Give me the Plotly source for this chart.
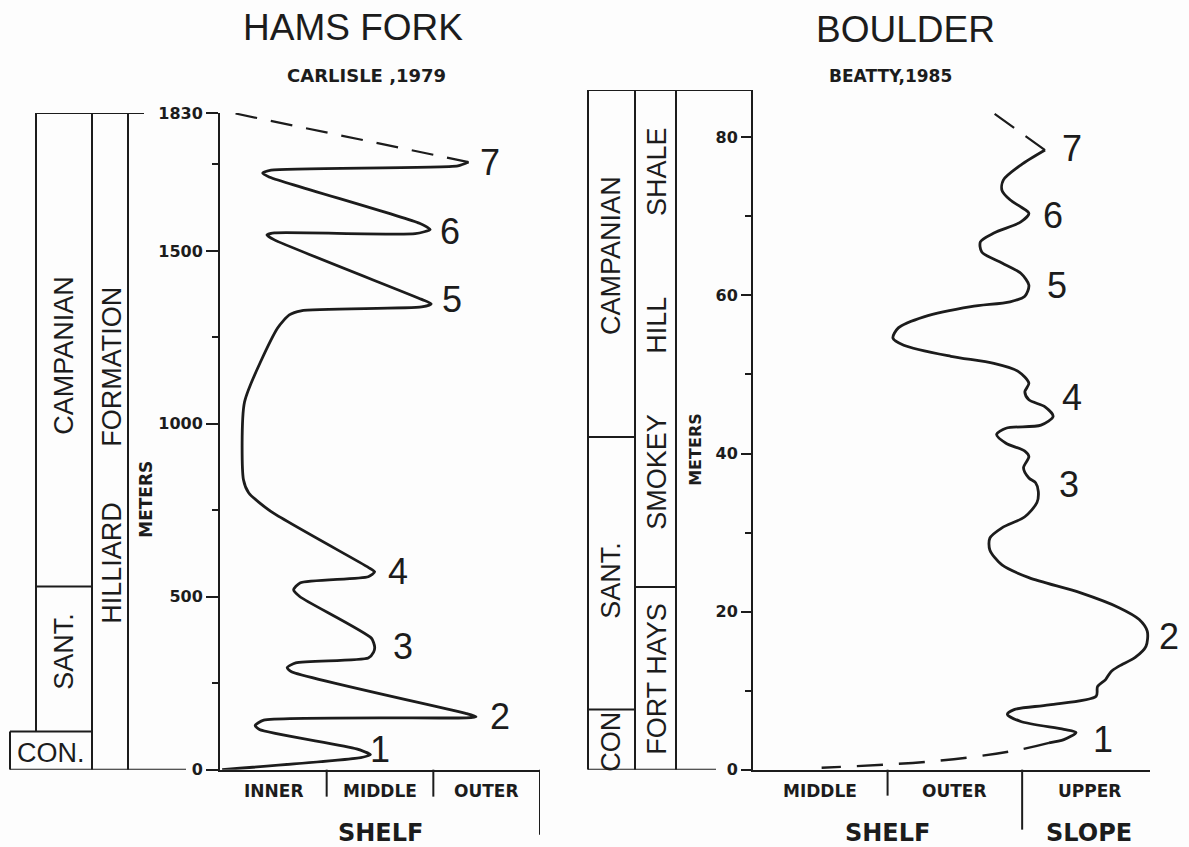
import plotly.graph_objects as go

W, H = 1189, 847

# ---------------- DATA ----------------
# Hams Fork (Carlisle, 1979): depth in metres vs environment (0..3 = inner/middle/outer shelf)
HF_DEPTH = [0, 35, 43, 60, 116, 128, 143, 150, 153, 162, 283, 295, 309, 323, 340, 355, 380,
            500, 520, 540, 558, 572, 585, 746, 800, 838, 1063, 1277, 1315, 1327, 1338, 1347,
            1360, 1532, 1546, 1552, 1550, 1562, 1580, 1714, 1725, 1734, 1746, 1757]
HF_ENV = [0.02, 1.32, 1.41, 1.28, 0.37, 0.33, 0.41, 2.31, 2.40, 2.31, 0.67, 0.63, 0.71, 1.39,
          1.44, 1.45, 1.42, 0.75, 0.69, 0.75, 1.39, 1.45, 1.39, 0.48, 0.27, 0.22, 0.23, 0.54,
          0.65, 0.76, 1.89, 1.98, 1.89, 0.51, 0.44, 0.51, 1.83, 1.97, 1.87, 0.46, 0.40, 0.48,
          2.23, 2.33]
HF_DASH_DEPTH = [1757, 1899]
HF_DASH_ENV = [2.33, 0.12]
HF_PEAKS = ["1", "2", "3", "4", "5", "6", "7"]
HF_PEAK_DEPTH = [43, 153, 355, 572, 1347, 1562, 1757]
HF_PEAK_ENV = [1.41, 2.40, 1.45, 1.45, 1.98, 1.97, 2.33]
HF_TICKVALS = [0, 500, 1000, 1500, 1899]
HF_TICKTEXT = ["0", "500", "1000", "1500", "1830"]
HF_MINOR = [250, 750, 1250, 1750]
HF_TOP = 1899
HF_FACIES = ["INNER", "MIDDLE", "OUTER"]
HF_STAGE_BOUNDS = {"CON.": (0, 110), "SANT.": (110, 530), "CAMPANIAN": (530, 1899)}

# Boulder (Beatty, 1985): depth in metres vs environment (0..3 = middle shelf/outer shelf/upper slope)
BO_DEPTH = [78.4, 76.5, 74.6, 73.3, 72.1, 71.2, 70.4, 69.3, 67.9, 66.8, 65.5, 64.1, 62.8, 61.3,
            59.9, 59.2, 58.6, 57.3, 55.9, 54.6, 53.7, 52.3, 51.4, 50.4, 48.9, 47.8, 46.8, 45.9,
            44.7, 43.6, 43.2, 42.4, 41.3, 40.3, 39.6, 38.2, 36.9, 36.3, 35.2, 33.8, 32.0, 30.6,
            29.3, 27.8, 25.9, 24.3, 22.4, 20.5, 19.0, 17.5, 15.6, 14.2, 13.1, 12.4, 11.4, 10.5,
            9.3, 8.2, 7.6, 7.0, 6.1, 5.1, 4.7, 3.8, 3.4]
BO_ENV = [2.17, 1.99, 1.86, 1.85, 1.91, 1.99, 2.05, 1.99, 1.79, 1.69, 1.70, 1.85, 1.99, 2.05,
          2.02, 1.91, 1.62, 1.27, 1.08, 1.04, 1.12, 1.47, 1.79, 1.97, 2.05, 2.02, 2.05, 2.17,
          2.23, 2.14, 1.88, 1.81, 1.88, 2.02, 2.05, 2.01, 2.05, 2.10, 2.12, 2.11, 2.02, 1.85,
          1.76, 1.76, 1.85, 2.05, 2.43, 2.72, 2.87, 2.93, 2.92, 2.84, 2.72, 2.66, 2.62, 2.56,
          2.55, 2.20, 1.94, 1.89, 1.99, 2.31, 2.40, 2.31, 2.20]
BO_DASH_TOP_DEPTH = [78.4, 83.4]
BO_DASH_TOP_ENV = [2.17, 1.76]
BO_DASH_BOT_DEPTH = [3.4, 2.3, 1.05, 0.25]
BO_DASH_BOT_ENV = [2.20, 1.91, 1.33, 0.51]
BO_PEAKS = ["1", "2", "3", "4", "5", "6", "7"]
BO_PEAK_DEPTH = [4.7, 17.5, 35.2, 44.7, 61.3, 70.4, 78.4]
BO_PEAK_ENV = [2.40, 2.93, 2.12, 2.23, 2.05, 2.05, 2.17]
BO_TICKVALS = [0, 20, 40, 60, 80]
BO_MINOR = [10, 30, 50, 70]
BO_TOP = 86
BO_FACIES = ["MIDDLE", "OUTER", "UPPER"]
BO_STAGE_BOUNDS = {"CON": (0, 7.6), "SANT.": (7.6, 42.1), "CAMPANIAN": (42.1, 86)}
BO_FM_BOUNDS = {"FORT HAYS": (0, 23.1), "SMOKEY HILL SHALE": (23.1, 86)}

# ---------------- STYLE / LAYOUT HELPERS ----------------
INK = "#1c1c1c"
BG = "#fdfdfd"
SANS = "Liberation Sans"
BOLD = "DejaVu Sans"


def px(x):
    return x / W


def py(y):
    # target pixel row -> paper fraction (small correction for the rendered page height)
    yy = (y - 9) / 0.978
    return 1 - yy / H


fig = go.Figure()

# curves
fig.add_trace(go.Scatter(x=HF_ENV, y=HF_DEPTH, mode="lines", xaxis="x", yaxis="y",
                         line=dict(color=INK, width=2.8, shape="spline", smoothing=0.6),
                         showlegend=False, hoverinfo="skip"))
fig.add_trace(go.Scatter(x=HF_DASH_ENV, y=HF_DASH_DEPTH, mode="lines", xaxis="x", yaxis="y",
                         line=dict(color=INK, width=2.2, dash="22px,14px"),
                         showlegend=False, hoverinfo="skip"))
fig.add_trace(go.Scatter(x=BO_ENV, y=BO_DEPTH, mode="lines", xaxis="x2", yaxis="y2",
                         line=dict(color=INK, width=2.8, shape="spline", smoothing=0.8),
                         showlegend=False, hoverinfo="skip"))
fig.add_trace(go.Scatter(x=BO_DASH_TOP_ENV, y=BO_DASH_TOP_DEPTH, mode="lines", xaxis="x2", yaxis="y2",
                         line=dict(color=INK, width=2.2, dash="24px,14px"),
                         showlegend=False, hoverinfo="skip"))
fig.add_trace(go.Scatter(x=BO_DASH_BOT_ENV, y=BO_DASH_BOT_DEPTH, mode="lines", xaxis="x2", yaxis="y2",
                         line=dict(color=INK, width=2.4, dash="26px,16px", shape="spline"),
                         showlegend=False, hoverinfo="skip"))

tickfont = dict(family=BOLD, size=16, color=INK, weight="bold")

fig.update_layout(
    width=W, height=H, margin=dict(l=0, r=0, t=0, b=0),
    paper_bgcolor=BG, plot_bgcolor=BG, showlegend=False,
    xaxis=dict(domain=[px(220), px(540)], range=[0, 3], anchor="y", showgrid=False,
               zeroline=False, showline=True, linecolor=INK, linewidth=2,
               ticks="", showticklabels=False),
    yaxis=dict(domain=[py(770), py(113)], range=[0, HF_TOP], anchor="x", showgrid=False,
               zeroline=False, showline=True, linecolor=INK, linewidth=2,
               tickmode="array", tickvals=HF_TICKVALS, ticktext=HF_TICKTEXT,
               ticks="outside", ticklen=12, tickwidth=2, tickcolor=INK, tickfont=tickfont,
               minor=dict(tickmode="array", tickvals=HF_MINOR, ticks="outside", ticklen=6,
                          tickwidth=2, tickcolor=INK, showgrid=False)),
    xaxis2=dict(domain=[px(753), px(1150)], range=[0, 2.95], anchor="y2", showgrid=False,
                zeroline=False, showline=True, linecolor=INK, linewidth=2,
                ticks="", showticklabels=False),
    yaxis2=dict(domain=[py(770), py(90)], range=[0, BO_TOP], anchor="x2", showgrid=False,
                zeroline=False, showline=True, linecolor=INK, linewidth=2,
                tickmode="array", tickvals=BO_TICKVALS,
                ticks="outside", ticklen=10, tickwidth=2, tickcolor=INK, tickfont=tickfont,
                minor=dict(tickmode="array", tickvals=BO_MINOR, ticks="outside", ticklen=6,
                           tickwidth=2, tickcolor=INK, showgrid=False)),
)

shapes = []


def hline(x0, x1, y, yref, w=2):
    shapes.append(dict(type="line", xref="paper", yref=yref, x0=px(x0), x1=px(x1), y0=y, y1=y,
                       line=dict(color=INK, width=w)))


def vline(x, y0, y1, yref, w=2):
    shapes.append(dict(type="line", xref="paper", yref=yref, x0=px(x), x1=px(x), y0=y0, y1=y1,
                       line=dict(color=INK, width=w)))


# ---- left stratigraphic columns ----
con_lo, con_hi = HF_STAGE_BOUNDS["CON."]
sant_lo, sant_hi = HF_STAGE_BOUNDS["SANT."]
vline(10, con_lo, con_hi, "y")
hline(10, 92, con_hi, "y")
vline(36, con_hi, HF_TOP, "y")
hline(36, 92, sant_hi, "y")
vline(92, 0, HF_TOP, "y")
vline(128, 0, HF_TOP, "y")
hline(36, 144, HF_TOP, "y")
hline(10, 186, 0, "y")

# ---- right stratigraphic columns ----
vline(588, 0, BO_TOP, "y2")
vline(635, 0, BO_TOP, "y2")
vline(676, 0, BO_TOP, "y2")
hline(588, 753, BO_TOP, "y2")
hline(588, 716, 0, "y2")
hline(588, 635, BO_STAGE_BOUNDS["CAMPANIAN"][0], "y2")
hline(588, 635, BO_STAGE_BOUNDS["CON"][1], "y2")
hline(635, 676, BO_FM_BOUNDS["FORT HAYS"][1], "y2")

# ---- facies dividers ----
for xv in (1, 2):
    shapes.append(dict(type="line", xref="x", yref="paper", x0=xv, x1=xv, y0=py(770), y1=py(797),
                       line=dict(color=INK, width=2)))
shapes.append(dict(type="line", xref="x", yref="paper", x0=3, x1=3, y0=py(770), y1=py(835),
                   line=dict(color=INK, width=2)))
shapes.append(dict(type="line", xref="x2", yref="paper", x0=1, x1=1, y0=py(770), y1=py(796),
                   line=dict(color=INK, width=2)))
shapes.append(dict(type="line", xref="x2", yref="paper", x0=2, x1=2, y0=py(770), y1=py(830),
                   line=dict(color=INK, width=2)))
fig.update_layout(shapes=shapes)

ann = []


def text(t, x, y, size, family=SANS, bold=False, angle=0):
    f = dict(family=family, size=size, color=INK)
    if bold:
        f["weight"] = "bold"
    ann.append(dict(text=t, x=px(x), y=py(y), xref="paper", yref="paper", showarrow=False,
                    xanchor="center", yanchor="middle", textangle=angle, font=f))


# titles
text("HAMS FORK", 353, 28, 37)
text("CARLISLE ,1979", 366, 76, 18, BOLD, True)
text("BOULDER", 905, 30, 37)
text("BEATTY,1985", 890, 76, 17, BOLD, True)

# left column labels
text("CAMPANIAN", 64, 356, 27, angle=-90)
text("SANT.", 64, 652, 27, angle=-90)
text("CON.", 51, 753, 27)
text("FORMATION", 112, 367, 27, angle=-90)
text("HILLIARD", 112, 563, 27, angle=-90)
text("METERS", 146, 500, 17, BOLD, True, angle=-90)

# right column labels
text("CAMPANIAN", 611, 256, 27, angle=-90)
text("SANT.", 611, 581, 27, angle=-90)
text("CON", 611, 742, 27, angle=-90)
text("SHALE", 657, 172, 27, angle=-90)
text("HILL", 657, 326, 27, angle=-90)
text("SMOKEY", 657, 472, 27, angle=-90)
text("FORT HAYS", 657, 679, 27, angle=-90)
text("METERS", 696, 450, 16, BOLD, True, angle=-90)

# facies labels
for i, lab in enumerate(HF_FACIES):
    ann.append(dict(text=lab, x=i + 0.5, y=py(791), xref="x", yref="paper", showarrow=False,
                    xanchor="center", yanchor="middle",
                    font=dict(family=BOLD, size=17, color=INK, weight="bold")))
for i, lab in enumerate(BO_FACIES):
    ann.append(dict(text=lab, x=i + 0.5, y=py(791), xref="x2", yref="paper", showarrow=False,
                    xanchor="center", yanchor="middle",
                    font=dict(family=BOLD, size=17, color=INK, weight="bold")))
ann.append(dict(text="SHELF", x=1.5, y=py(833), xref="x", yref="paper", showarrow=False,
                xanchor="center", yanchor="middle",
                font=dict(family=BOLD, size=24, color=INK, weight="bold")))
ann.append(dict(text="SHELF", x=1.0, y=py(833), xref="x2", yref="paper", showarrow=False,
                xanchor="center", yanchor="middle",
                font=dict(family=BOLD, size=24, color=INK, weight="bold")))
ann.append(dict(text="SLOPE", x=2.5, y=py(833), xref="x2", yref="paper", showarrow=False,
                xanchor="center", yanchor="middle",
                font=dict(family=BOLD, size=24, color=INK, weight="bold")))

# peak numbers
HF_SHIFT = {"1": (10, 5), "2": (24, 0), "3": (28, 0), "4": (23, 0), "5": (21, 4), "6": (20, -2), "7": (21, 0)}
BO_SHIFT = {"1": (27, -7), "2": (22, -5), "3": (31, 7), "4": (19, 19), "5": (28, 0), "6": (24, -2), "7": (27, 2)}
for lab, d, e in zip(HF_PEAKS, HF_PEAK_DEPTH, HF_PEAK_ENV):
    dx, dy = HF_SHIFT[lab]
    ann.append(dict(text=lab, x=e, y=d, xref="x", yref="y", showarrow=False, xanchor="center",
                    yanchor="middle", xshift=dx, yshift=dy,
                    font=dict(family=SANS, size=36, color=INK)))
for lab, d, e in zip(BO_PEAKS, BO_PEAK_DEPTH, BO_PEAK_ENV):
    dx, dy = BO_SHIFT[lab]
    ann.append(dict(text=lab, x=e, y=d, xref="x2", yref="y2", showarrow=False, xanchor="center",
                    yanchor="middle", xshift=dx, yshift=dy,
                    font=dict(family=SANS, size=36, color=INK)))

fig.update_layout(annotations=ann)
fig.write_html("out.html")
